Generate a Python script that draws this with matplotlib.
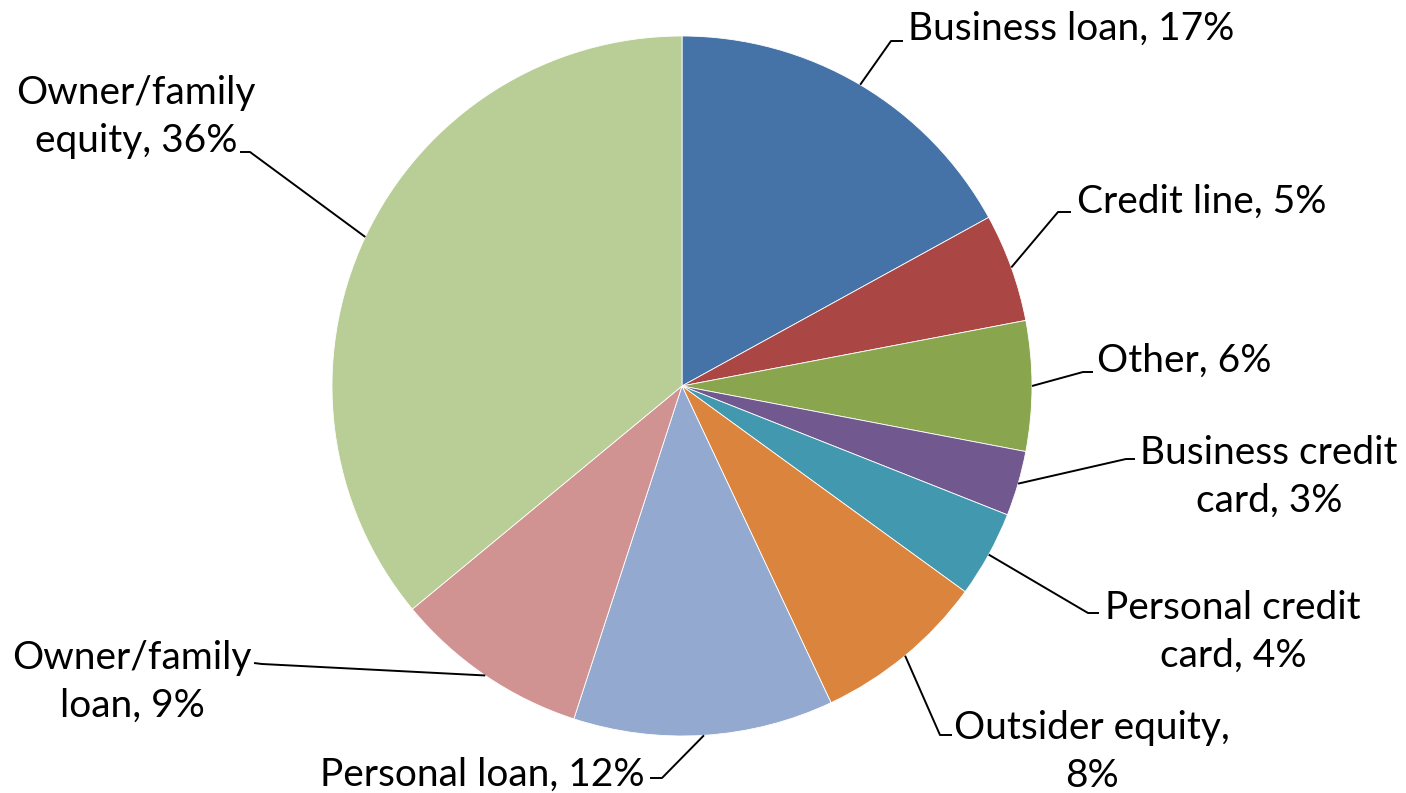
import matplotlib
matplotlib.use("Agg")
import matplotlib.pyplot as plt
import numpy as np

# ---- data ----
categories = ["Business loan", "Credit line", "Other", "Business credit card",
              "Personal credit card", "Outsider equity", "Personal loan",
              "Owner/family loan", "Owner/family equity"]
values = [17, 5, 6, 3, 4, 8, 12, 9, 36]
label_texts = ["Business loan, 17%", "Credit line, 5%", "Other, 6%",
               "Business credit\ncard, 3%", "Personal credit\ncard, 4%",
               "Outsider equity,\n8%", "Personal loan, 12%",
               "Owner/family\nloan, 9%", "Owner/family\nequity, 36%"]
colors = ["#4572A7", "#AA4643", "#89A54E", "#71588F", "#4198AF",
          "#DB843D", "#93A9CF", "#D19392", "#B9CD96"]

# ---- layout (pixel coordinates, y measured from top) ----
W, H = 1406, 793
CX, CY, R = 682, 386, 350
# elbow point, end of short horizontal, text anchor (x, last-line baseline), ha
elbows = [(891, 41), (1058, 212), (1083, 372), (1126, 459), (1088, 613),
          (940, 735), (662, 778), (262, 664), (250, 152)]
ends = [(903, 41), (1071, 212), (1093, 372), (1135, 459), (1099, 613),
        (952, 735), (650, 778), (254, 663), (240, 152)]
text_pos = [(908, 40, "left"), (1077, 213, "left"), (1097, 372, "left"),
            (1269, 512, "center"), (1233, 667, "center"),
            (1092, 787, "center"), (645, 786, "right"),
            (132, 717, "center"), (136, 152, "center")]

plt.rcParams['font.family'] = ['Lato', 'DejaVu Sans']

fig = plt.figure(figsize=(W / 100, H / 100), dpi=100)
ax = fig.add_axes([0, 0, 1, 1])

def fy(y):
    return H - y

wedges, _ = ax.pie(values, colors=colors, startangle=90, counterclock=False,
                   center=(CX, fy(CY)), radius=R,
                   wedgeprops=dict(edgecolor="white", linewidth=0.6))
ax.set_xlim(0, W)
ax.set_ylim(0, H)
ax.set_aspect("auto")
ax.axis("off")

for w, el, en, (tx, ty, ha), txt in zip(wedges, elbows, ends, text_pos, label_texts):
    mid = np.deg2rad((w.theta1 + w.theta2) / 2)
    x0 = CX + R * np.cos(mid)
    y0 = fy(CY) + R * np.sin(mid)
    ax.plot([x0, el[0], en[0]], [y0, fy(el[1]), fy(en[1])],
            color="black", lw=1.4, solid_capstyle="butt")
    ax.text(tx, fy(ty), txt, ha=ha, va="baseline", multialignment="center",
            fontsize=28, linespacing=1.42, color="black")

fig.savefig("out.png", dpi=100)
